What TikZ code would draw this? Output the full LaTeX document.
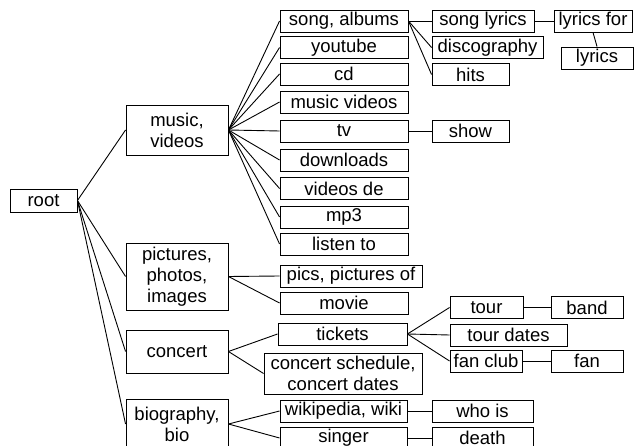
\documentclass[tikz,border=0pt]{standalone}
\usepackage{fontspec}
\setmainfont{Liberation Sans}
\usepackage{tikz}

\begin{document}
\begin{tikzpicture}[x=1pt, y=-1pt]
  \tikzset{bx/.style={draw, line width=0.9pt, inner sep=0pt, minimum height=22pt, align=center, font=\fontsize{18.5}{21}\selectfont},
    ln/.style={line width=0.9pt}}
\useasboundingbox (0,0) rectangle (634,446);
\node[bx, minimum width=67pt, minimum height=23pt] (root) at (43.5,200.5) {root};
\node[bx, minimum width=102pt, minimum height=50pt] (music) at (177,130) {music,\\videos};
\node[bx, minimum width=102pt, minimum height=67pt] (pics) at (177,276.5) {pictures,\\photos,\\images};
\node[bx, minimum width=102pt, minimum height=43pt] (concert) at (177,351.5) {concert};
\node[bx, minimum width=102pt, minimum height=50pt] (bio) at (177,424) {biography,\\bio};
\draw[ln] (root.east) -- (music.west); \draw[ln] (root.east) -- (pics.west);
\draw[ln] (root.east) -- (concert.west); \draw[ln] (root.east) -- (bio.west);
% music, videos
\node[bx, minimum width=128pt] (song) at (344,21) {song, albums};
\node[bx, minimum width=128pt] (youtube) at (344,47.5) {youtube};
\node[bx, minimum width=128pt] (cd) at (344,74) {cd};
\node[bx, minimum width=128pt] (mvideos) at (344,102) {music videos};
\node[bx, minimum width=128pt] (tv) at (344,131) {tv};
\node[bx, minimum width=128pt] (downloads) at (344,160) {downloads};
\node[bx, minimum width=128pt] (vde) at (344,188.5) {videos de};
\node[bx, minimum width=128pt] (mp3) at (344,217) {mp3};
\node[bx, minimum width=128pt] (listen) at (344,244) {listen to};
\draw[ln] (music.east) -- (song.west); \draw[ln] (music.east) -- (youtube.west);
\draw[ln] (music.east) -- (cd.west); \draw[ln] (music.east) -- (mvideos.west);
\draw[ln] (music.east) -- (tv.west); \draw[ln] (music.east) -- (downloads.west);
\draw[ln] (music.east) -- (vde.west); \draw[ln] (music.east) -- (mp3.west);
\draw[ln] (music.east) -- (listen.west);
\node[bx, minimum width=102pt] (slyrics) at (483,21) {song lyrics};
\node[bx, minimum width=111pt] (disco) at (487.5,47.5) {discography};
\node[bx, minimum width=77pt] (hits) at (470.5,74.5) {hits};
\draw[ln] (song.east) -- (slyrics.west); \draw[ln] (song.east) -- (disco.west); \draw[ln] (song.east) -- (hits.west);
\node[bx, minimum width=78pt] (lyricsfor) at (593,21) {lyrics for};
\node[bx, minimum width=72pt] (lyrics) at (597,58) {lyrics};
\draw[ln] (slyrics.east) -- (lyricsfor.west); \draw[ln] (lyricsfor.south) -- (lyrics.north);
\node[bx, minimum width=77pt] (show) at (470.5,131) {show};
\draw[ln] (tv.east) -- (show.west);
% pictures
\node[bx, minimum width=142pt] (picsof) at (351,276) {pics, pictures of};
\node[bx, minimum width=128pt] (movie) at (344,303) {movie};
\draw[ln] (pics.east) -- (picsof.west); \draw[ln] (pics.east) -- (movie.west);
% concert
\node[bx, minimum width=129pt] (tickets) at (342.5,334) {tickets};
\node[bx, minimum width=158pt, minimum height=41pt] (sched) at (343,373.5) {concert schedule,\\concert dates};
\draw[ln] (concert.east) -- (tickets.west); \draw[ln] (concert.east) -- (sched.west);
\node[bx, minimum width=73pt] (tour) at (486.5,307.5) {tour};
\node[bx, minimum width=117pt] (tdates) at (508.5,335) {tour dates};
\node[bx, minimum width=72pt] (fanclub) at (486,361) {fan club};
\draw[ln] (tickets.east) -- (tour.west); \draw[ln] (tickets.east) -- (tdates.west); \draw[ln] (tickets.east) -- (fanclub.west);
\node[bx, minimum width=72pt] (band) at (587,307.5) {band};
\node[bx, minimum width=72pt] (fan) at (587,361) {fan};
\draw[ln] (tour.east) -- (band.west); \draw[ln] (fanclub.east) -- (fan.west);
% biography
\node[bx, minimum width=127pt] (wiki) at (343.5,411) {wikipedia, wiki};
\node[bx, minimum width=127pt] (singer) at (343.5,438) {singer};
\draw[ln] (bio.east) -- (wiki.west); \draw[ln] (bio.east) -- (singer.west);
\node[bx, minimum width=101pt] (whois) at (482.5,411) {who is};
\node[bx, minimum width=101pt] (death) at (482.5,438) {death};
\draw[ln] (wiki.east) -- (whois.west); \draw[ln] (singer.east) -- (death.west);
\end{tikzpicture}
\end{document}
